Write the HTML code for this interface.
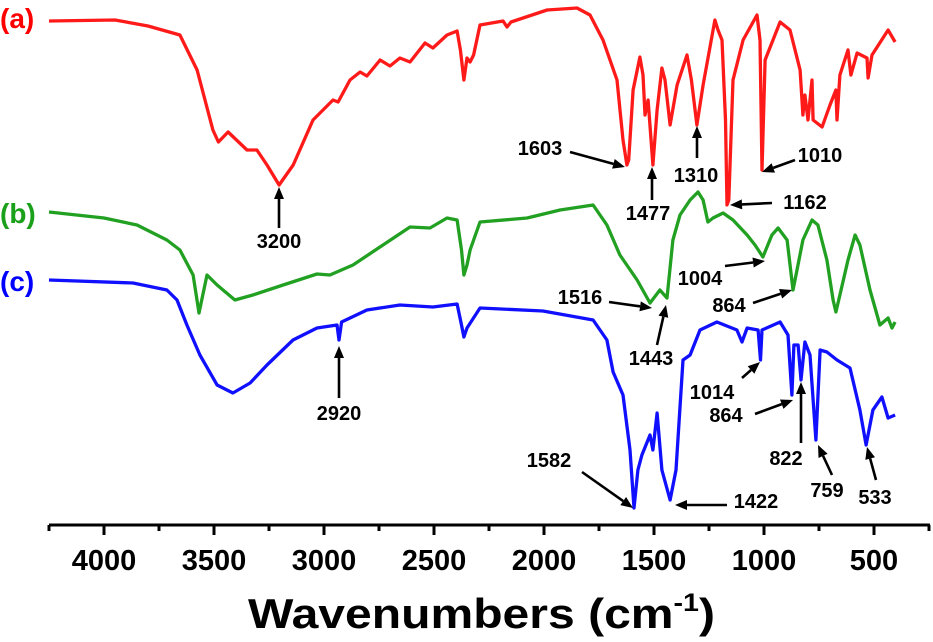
<!DOCTYPE html>
<html><head><meta charset="utf-8"><style>
html,body{margin:0;padding:0;background:#fff;}
svg{display:block;font-family:"Liberation Sans",Arial,sans-serif;font-weight:bold;}
</style></head><body>
<svg id="chart" width="933" height="642" viewBox="0 0 933 642" xmlns="http://www.w3.org/2000/svg">
<g id="series"></g>
<g id="axis"></g>
<g id="ann"></g>
<text x="0" y="28" fill="#ff0000" font-size="28">(a)</text>
<text x="0" y="223" fill="#1aa01a" font-size="28">(b)</text>
<text x="0" y="291" fill="#0000ff" font-size="28">(c)</text>
<text x="248" y="628" font-size="42" fill="#000" textLength="467" lengthAdjust="spacingAndGlyphs">Wavenumbers (cm<tspan font-size="25" dy="-17">-1</tspan><tspan dy="17">)</tspan></text>
</svg>
<script>
// Wavenumbers (cm-1) and relative transmittance (arbitrary units, offset per trace)
const wnA=[4250,3950,3800,3655,3577,3505,3480,3436,3350,3305,3259,3204,3140,3050,2959,2936,2882,2836,2805,2745,2700,2655,2609,2541,2505,2441,2395,2380,2364,2350,2336,2320,2291,2186,2168,2150,1986,1850,1791,1732,1668,1641,1623,1615,1595,1564,1550,1541,1527,1505,1486,1464,1450,1427,1395,1350,1330,1305,1277,1223,1209,1191,1175,1168,1160,1141,1095,1032,1018,1009,995,927,882,836,823,814,800,782,777,736,700,673,668,655,618,605,577,532,527,509,436,404];
const tA=[519,520,514,505,470,410,398,408,390,390,375,355,375,420,440,438,460,468,464,480,474,482,478,497,492,505,509,490,460,482,478,485,515,519,513,518,530,532,525,500,460,400,375,380,450,483,465,425,440,375,430,472,460,415,455,485,460,415,455,520,510,500,420,335,340,460,500,525,500,370,480,518,510,470,425,445,420,460,420,413,435,450,420,465,490,465,487,482,462,485,510,498];
const wnB=[4250,4000,3850,3714,3655,3595,3568,3532,3486,3405,3323,3186,3032,2973,2868,2732,2609,2518,2441,2395,2375,2364,2350,2336,2291,2077,1927,1777,1714,1655,1577,1518,1473,1441,1414,1382,1336,1300,1277,1255,1232,1186,1141,1077,1041,1005,964,936,895,868,850,823,782,755,714,686,673,655,618,586,564,518,473,436,418,404];
const tB=[328,322,315,300,290,265,227,265,255,240,245,255,266,265,275,295,313,312,322,320,290,265,275,290,318,322,330,335,315,285,260,237,250,242,300,325,340,348,340,318,322,327,320,305,295,283,305,312,300,250,270,300,320,315,280,240,228,245,280,305,295,250,215,222,212,218];
const wnC=[4250,3868,3714,3668,3623,3564,3486,3414,3336,3259,3141,3032,2941,2932,2920,2805,2655,2505,2395,2375,2364,2350,2291,2005,1777,1714,1686,1641,1609,1591,1573,1555,1518,1505,1486,1464,1427,1400,1368,1336,1291,1214,1123,1100,1077,1027,1016,1009,927,891,873,864,845,832,814,791,764,745,714,668,609,564,536,505,464,436,404];
const tC=[260,257,250,240,215,185,155,147,157,175,200,212,215,200,218,230,235,233,236,215,203,212,232,229,220,200,168,145,90,32,70,85,105,90,127,70,40,70,180,185,210,218,210,198,212,210,180,210,218,205,145,195,195,160,198,185,100,190,188,180,172,130,95,130,143,122,125];
const tickVals=[4000,3500,3000,2500,2000,1500,1000,500];
const tickLabels=["4000","3500","3000","2500","2000","1500","1000","500"];
const minorVals=[4250,3750,3250,2750,2250,1750,1250,750,250];
const annText=["3200","1603","1477","1310","1010","1162","1004","864","1516","1443","2920","1014","864","822","759","533","1582","1422"];

const NS="http://www.w3.org/2000/svg";
function xScale(w){return 104+(4000-w)*0.22;}
function yScale(t){return 540-t;}
const AXY=525;

const sg=document.getElementById('series');
function drawSeries(wn,t,color,name){
  const p=document.createElementNS(NS,'path');
  let d='';
  for(let i=0;i<wn.length;i++){d+=(i?'L':'M')+xScale(wn[i]).toFixed(1)+','+yScale(t[i]).toFixed(1);}
  p.setAttribute('d',d);
  p.setAttribute('fill','none');
  p.setAttribute('stroke',color);
  p.setAttribute('stroke-width','3.3');
  p.setAttribute('stroke-linejoin','round');
  
  
  sg.appendChild(p);
}
drawSeries(wnA,tA,'#ff1a1a','spectrum-a');
drawSeries(wnB,tB,'#22a022','spectrum-b');
drawSeries(wnC,tC,'#1010ff','spectrum-c');

const ag=document.getElementById('axis');
function line(g,x1,y1,x2,y2,w,name){
  const l=document.createElementNS(NS,'line');
  l.setAttribute('x1',x1);l.setAttribute('y1',y1);l.setAttribute('x2',x2);l.setAttribute('y2',y2);
  l.setAttribute('stroke','#000');l.setAttribute('stroke-width',w);
  
  
  g.appendChild(l);return l;
}
line(ag,xScale(4250),AXY,xScale(250)+1,AXY,3,'x-axis-line');
tickVals.forEach((v,i)=>{
  line(ag,xScale(v),AXY,xScale(v),AXY+10,3,'major-tick');
  const tx=document.createElementNS(NS,'text');
  tx.setAttribute('x',xScale(v));tx.setAttribute('y',570);
  tx.setAttribute('text-anchor','middle');tx.setAttribute('font-size','29');
  tx.textContent=tickLabels[i];
  
  
  ag.appendChild(tx);
});
minorVals.forEach(v=>{line(ag,xScale(v),AXY,xScale(v),AXY+6,3,'minor-tick');});

// annotations: text centre, arrow tail, arrow head (layout positions)
const annPos=[
 [279,248,279,228,279,187],
 [540,155,570,152,625,167],
 [648,220,652,200,652,167],
 [696,182,697,158,697,126],
 [820,162,795,160,762,172],
 [805,209,772,203,730,205],
 [700,285,725,266,765,261],
 [729,312,753,303,792,290],
 [580,304,609,302,652,308],
 [651,365,657,345,666,305],
 [339,420,339,398,339,346],
 [712,399,742,378,760,362],
 [726,422,755,414,793,400],
 [786,465,801,443,801,382],
 [827,497,832,475,818,445],
 [875,504,876,480,867,447],
 [549,467,582,472,633,508],
 [756,508,727,505,675,505]
];
const ng=document.getElementById('ann');
annPos.forEach((a,i)=>{
  const tx=document.createElementNS(NS,'text');
  tx.setAttribute('x',a[0]);tx.setAttribute('y',a[1]);
  tx.setAttribute('text-anchor','middle');tx.setAttribute('font-size','20');
  tx.textContent=annText[i];
  
  
  ng.appendChild(tx);
  const dx=a[4]-a[2],dy=a[5]-a[3],L=Math.hypot(dx,dy),ux=dx/L,uy=dy/L;
  const hl=12,hw=5;
  const bx=a[4]-ux*hl,by=a[5]-uy*hl;
  line(ng,a[2],a[3],bx,by,2.6,'peak-arrow');
  const h=document.createElementNS(NS,'polygon');
  h.setAttribute('points',a[4]+','+a[5]+' '+(bx-uy*hw)+','+(by+ux*hw)+' '+(bx+uy*hw)+','+(by-ux*hw));
  h.setAttribute('fill','#000');
  
  
  ng.appendChild(h);
});
</script>
</body></html>
